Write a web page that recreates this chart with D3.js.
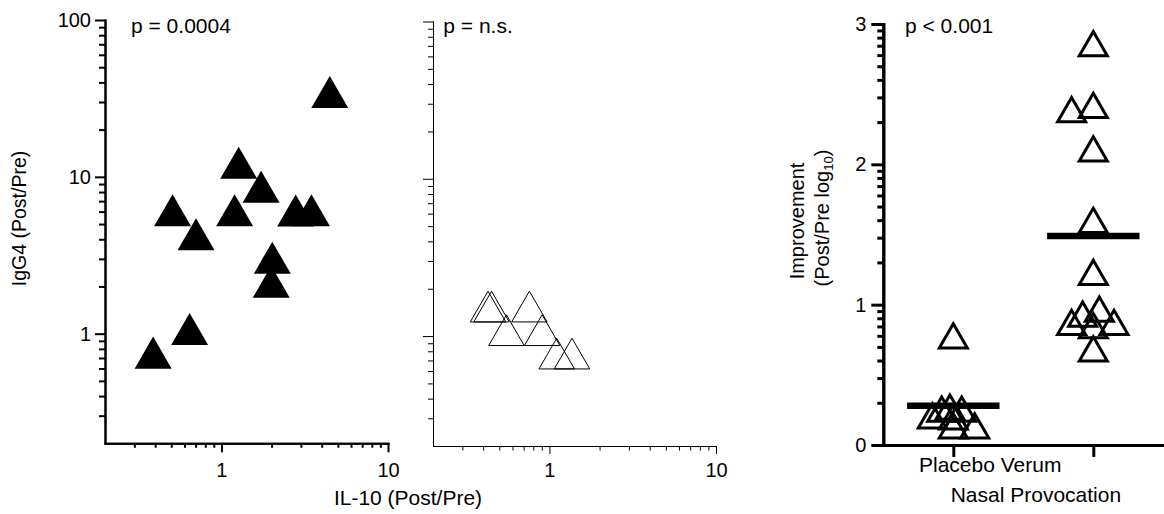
<!DOCTYPE html>
<html><head><meta charset="utf-8">
<script src="https://cdn.jsdelivr.net/npm/d3@7"></script>
<style>
body{margin:0;background:#fff;}
svg{display:block;background:#fff;}
text{font-family:"Liberation Sans",Arial,Helvetica,sans-serif;fill:#000;}
</style>
</head><body>
<svg id="c" width="1164" height="514"></svg>
<script>
// ---------- data ----------
const verumIL10   = [4.47, 1.27, 1.73, 0.509, 1.20, 2.79, 3.47, 0.704, 2.02, 1.99, 0.644, 0.389];
const verumIgG4   = [34.8, 12.3, 8.65, 6.12, 6.12, 6.10, 6.12, 4.30, 3.05, 2.14, 1.07, 0.757];
const placeboIL10 = [0.428, 0.449, 0.758, 0.552, 0.904, 1.106, 1.366];
const placeboIgG4 = [1.54, 1.54, 1.54, 1.09, 1.09, 0.774, 0.774];

const groups = ["Placebo", "Verum"];
const placeboImprovement = [0.778, 0.207, 0.137, 0.137, 0.256, 0.27, 0.256, 0.2];
const placeboJitter      = [0, -0.15, 0, 0.153, -0.083, -0.024, 0.06, 0];
const verumImprovement   = [2.86, 2.39, 2.42, 2.11, 1.60, 1.23, 0.873, 0.932, 0.968, 0.873, 0.85, 0.685];
const verumJitter        = [0, -0.155, 0, 0, 0, 0, -0.155, -0.076, 0.043, 0.148, 0, 0];
const groupMeans = [0.28, 1.49];

const logYMajor = [1, 10, 100];
const logYLabels = ["1", "10", "100"];
const logXMajor = [1, 10];
const logXLabels = ["1", "10"];
const impMajor = [0, 1, 2, 3];
const impLabels = ["0", "1", "2", "3"];
const pTexts = ["p = 0.0004", "p = n.s.", "p < 0.001"];

// ---------- helpers ----------
const svg = d3.select("#c");
const FONT = '"Liberation Sans", Arial, Helvetica, sans-serif';

function logMinors(lo, hi) {
  const out = [];
  for (let dec = 0.1; dec < hi; dec *= 10) {
    for (let m = 2; m <= 9; m++) {
      const v = +(m * dec).toPrecision(3);
      if (v > lo && v < hi) out.push(v);
    }
  }
  return out;
}

function drawAxis(scale, orient, pos, o) {
  const g = svg.append("g");
  const mk = orient === "left" ? d3.axisLeft : d3.axisBottom;
  const tr = orient === "left" ? `translate(${pos},0)` : `translate(0,${pos})`;
  if (o.minors && o.minors.length) {
    g.append("g").attr("transform", tr)
      .call(mk(scale).tickValues(o.minors).tickSize(o.minorLen).tickSizeOuter(0).tickFormat(""));
  }
  g.append("g").attr("transform", tr)
    .call(mk(scale).tickValues(o.majors).tickSize(o.majorLen).tickSizeOuter(0)
      .tickPadding(o.pad || 3)
      .tickFormat((d, i) => o.labels ? o.labels[i] : ""));
  g.selectAll("path.domain").attr("stroke", "#000").attr("stroke-width", o.sw).attr("stroke-linecap", "square");
  g.selectAll("line").attr("stroke", "#000").attr("stroke-width", o.sw);
  g.selectAll("text").attr("font-size", o.fs || 20).attr("font-family", FONT).attr("fill", "#000");
  return g;
}

const triangle = {
  draw(ctx, size) {
    const w = Math.sqrt(size * 4 / Math.sqrt(3));
    const h = w * Math.sqrt(3) / 2;
    ctx.moveTo(0, -h / 2);
    ctx.lineTo(w / 2, h / 2);
    ctx.lineTo(-w / 2, h / 2);
    ctx.closePath();
  }
};
const triArea = w => w * w * Math.sqrt(3) / 4;

function text(x, y, str, fs, anchor, rot) {
  const t = svg.append("text")
    .attr("font-size", fs).attr("font-family", FONT)
    .attr("text-anchor", anchor || "start")
    .attr("transform", `translate(${x},${y})` + (rot ? ` rotate(${rot})` : ""))
    .text(str);
  return t;
}

// ---------- panel 1: verum IL-10 vs IgG4 ----------
const x1 = d3.scaleLog().domain([0.2, 10]).range([105, 388]);
const y1 = d3.scaleLog().domain([0.2, 100]).range([443.3, 20]);

drawAxis(y1, "left", 105, {majors: logYMajor, labels: logYLabels, minors: logMinors(0.2, 100),
  majorLen: 10, minorLen: 6, sw: 2, pad: 4, fs: 20});
drawAxis(x1, "bottom", 443.3, {majors: logXMajor, labels: logXLabels, minors: logMinors(0.2, 10),
  majorLen: 9, minorLen: 4.5, sw: 2, pad: 10.5, fs: 20});

svg.append("g").selectAll("path").data(verumIL10).join("path")
  .attr("d", d3.symbol().type(triangle).size(triArea(37)))
  .attr("transform", (d, i) => `translate(${x1(d)},${y1(verumIgG4[i])})`)
  .attr("fill", "#000");

text(131, 33.3, pTexts[0], 21);
text(26, 218.5, "IgG4 (Post/Pre)", 19.5, "middle", -90);
text(408, 505, "IL-10 (Post/Pre)", 21, "middle");

// ---------- panel 2: placebo IL-10 vs IgG4 ----------
const x2 = d3.scaleLog().domain([0.2, 10]).range([433, 716]);
const y2 = d3.scaleLog().domain([0.2, 100]).range([446, 21.5]);

drawAxis(y2, "left", 433, {majors: logYMajor, labels: null, minors: logMinors(0.2, 100),
  majorLen: 10, minorLen: 5, sw: 1, pad: 3});
drawAxis(x2, "bottom", 446, {majors: logXMajor, labels: logXLabels, minors: logMinors(0.2, 10),
  majorLen: 8, minorLen: 4.5, sw: 1, pad: 9, fs: 20});

svg.append("g").selectAll("path").data(placeboIL10).join("path")
  .attr("d", d3.symbol().type(triangle).size(triArea(35.5)))
  .attr("transform", (d, i) => `translate(${x2(d)},${y2(placeboIgG4[i])})`)
  .attr("fill", "none").attr("stroke", "#000").attr("stroke-width", 1);

text(443.3, 33.3, pTexts[1], 21);

// ---------- panel 3: improvement by group ----------
const x3 = d3.scaleLinear().domain([0.5, 2.5]).range([883.3, 1163.3]);
const y3 = d3.scaleLinear().domain([0, 3]).range([445, 24]);
const impMinors = [];
for (let k = 0; k < 3; k++) for (let m = 2; m <= 9; m++) impMinors.push(k + Math.log10(m));

drawAxis(y3, "left", 883.3, {majors: impMajor, labels: impLabels, minors: impMinors,
  majorLen: 12, minorLen: 6, sw: 3, pad: 5, fs: 20});
drawAxis(x3, "bottom", 445, {majors: [1, 2], labels: null, minors: [],
  majorLen: 12, minorLen: 0, sw: 3, pad: 3});

const impSym = d3.symbol().type(triangle).size(triArea(28));
const gp = svg.append("g");
gp.selectAll("path.p").data(placeboImprovement).join("path").attr("class", "p")
  .attr("d", impSym)
  .attr("transform", (d, i) => `translate(${x3(1 + placeboJitter[i])},${y3(d)})`)
  .attr("fill", "none").attr("stroke", "#000").attr("stroke-width", 3).attr("stroke-linejoin", "miter");
gp.selectAll("path.v").data(verumImprovement).join("path").attr("class", "v")
  .attr("d", impSym)
  .attr("transform", (d, i) => `translate(${x3(2 + verumJitter[i])},${y3(d)})`)
  .attr("fill", "none").attr("stroke", "#000").attr("stroke-width", 3).attr("stroke-linejoin", "miter");

svg.append("g").selectAll("line").data(groupMeans).join("line")
  .attr("x1", (d, i) => x3(i + 1 - 0.33)).attr("x2", (d, i) => x3(i + 1 + 0.33))
  .attr("y1", d => y3(d)).attr("y2", d => y3(d))
  .attr("stroke", "#000").attr("stroke-width", 6.5);

text(905, 33.3, pTexts[2], 21);
text(919, 471.7, groups.join(" "), 21);
text(950.7, 501.7, "Nasal Provocation", 21);
text(804, 221, "Improvement", 20, "middle", -90);
const t2 = text(829, 218, "", 20, "middle", -90);
t2.append("tspan").text("(Post/Pre log");
t2.append("tspan").attr("font-size", 13).attr("dy", 4).text("10");
t2.append("tspan").attr("dy", -4).text(")");
</script>
</body></html>
